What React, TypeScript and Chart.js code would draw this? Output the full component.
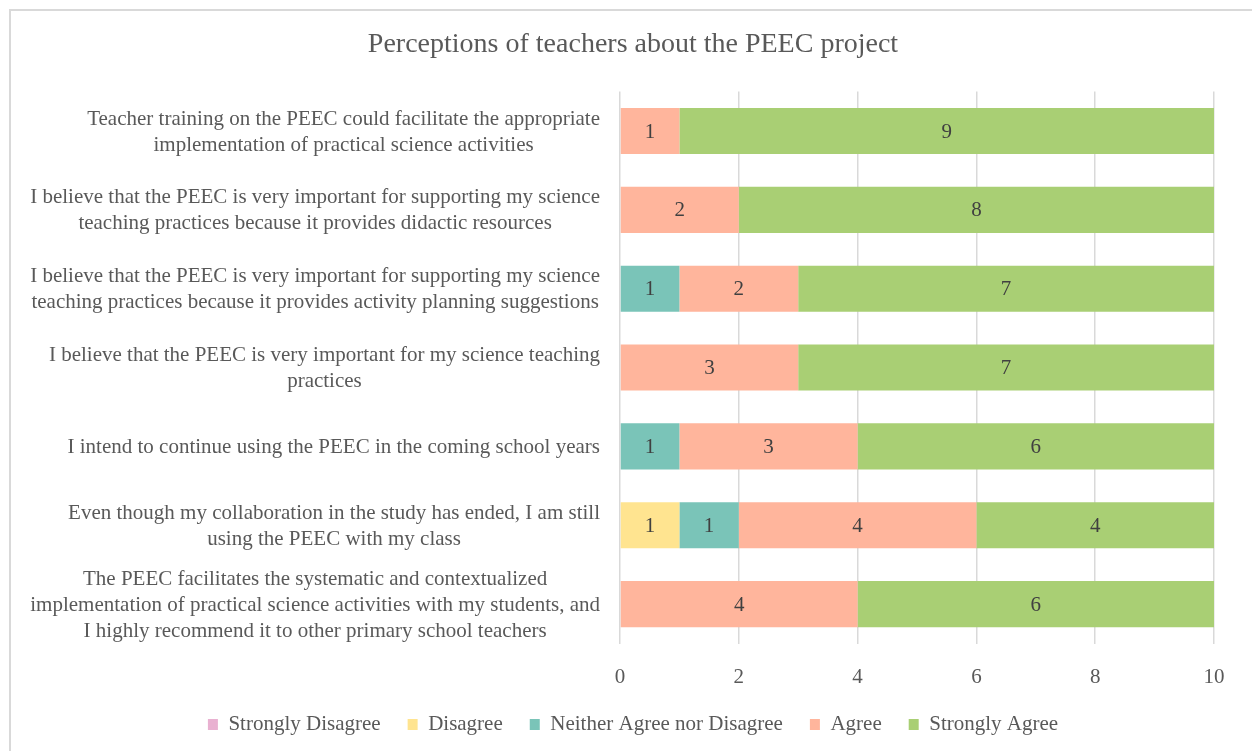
import React, { useEffect, useRef } from "react";
import { Chart, registerables } from "chart.js";

Chart.register(...registerables);

const FONT = "'Liberation Serif', 'Times New Roman', serif";

const categories: string[][] = [
  ["Teacher training on the PEEC could facilitate the appropriate", "implementation of practical science activities"],
  ["I believe that the PEEC is very important for supporting my science", "teaching practices because it provides didactic resources"],
  ["I believe that the PEEC is very important for supporting my science", "teaching practices because it provides activity planning suggestions"],
  ["I believe that the PEEC is very important for my science teaching", "practices"],
  ["I intend to continue using the PEEC in the coming school years"],
  ["Even though my collaboration in the study has ended, I am still", "using the PEEC with my class"],
  ["The PEEC facilitates the systematic and contextualized", "implementation of practical science activities with my students, and", "I highly recommend it to other primary school teachers"],
];

const seriesNames = ["Strongly Disagree", "Disagree", "Neither Agree nor Disagree", "Agree", "Strongly Agree"];
const stronglyDisagree = [0, 0, 0, 0, 0, 0, 0];
const disagree = [0, 0, 0, 0, 0, 1, 0];
const neither = [0, 0, 1, 0, 1, 1, 0];
const agree = [1, 2, 2, 3, 3, 4, 4];
const stronglyAgree = [9, 8, 7, 7, 6, 4, 6];
const seriesColors = ["#E9B1D1", "#FFE490", "#7AC4B8", "#FFB59C", "#A9CF74"];
const xTicks = [0, 2, 4, 6, 8, 10];
const title = "Perceptions of teachers about the PEEC project";

const yLabelPlugin = {
  id: "yLabels",
  afterDraw(chart: any) {
    const ctx = chart.ctx;
    const yScale = chart.scales.y;
    const area = chart.chartArea;
    ctx.save();
    ctx.font = `21px ${FONT}`;
    ctx.fillStyle = "#595959";
    ctx.textBaseline = "middle";
    ctx.textAlign = "center";
    const lh = 26;
    const right = area.left - 20;
    categories.forEach((lines, i) => {
      const yc = yScale.getPixelForValue(i) + 1;
      const w = Math.max(...lines.map((l) => ctx.measureText(l).width));
      const xc = right - w / 2;
      const y0 = yc - ((lines.length - 1) / 2) * lh;
      lines.forEach((l, j) => ctx.fillText(l, xc, y0 + j * lh));
    });
    ctx.restore();
  },
};

const dataLabelPlugin = {
  id: "dataLabels",
  afterDatasetsDraw(chart: any) {
    const ctx = chart.ctx;
    ctx.save();
    ctx.font = `21px ${FONT}`;
    ctx.fillStyle = "#404040";
    ctx.textAlign = "center";
    ctx.textBaseline = "middle";
    chart.data.datasets.forEach((ds: any, di: number) => {
      const meta = chart.getDatasetMeta(di);
      meta.data.forEach((bar: any, i: number) => {
        const v = ds.data[i];
        if (!v) return;
        const x = (bar.x + bar.base) / 2;
        ctx.fillText(String(v), x, bar.y + 1);
      });
    });
    ctx.restore();
  },
};

export default function App() {
  const ref = useRef<HTMLCanvasElement | null>(null);
  useEffect(() => {
    if (!ref.current) return;
    const values = [stronglyDisagree, disagree, neither, agree, stronglyAgree];
    const chart = new Chart(ref.current, {
      type: "bar",
      data: {
        labels: categories.map((c) => c.join(" ")),
        datasets: seriesNames.map((name, i) => ({
          label: name,
          data: values[i],
          backgroundColor: seriesColors[i],
          borderWidth: 0,
          barPercentage: 0.585,
          categoryPercentage: 1,
        })),
      },
      options: {
        indexAxis: "y",
        responsive: false,
        animation: false,
        maintainAspectRatio: false,
        layout: { padding: { left: 52, right: 38, top: 0, bottom: 6 } },
        scales: {
          x: {
            stacked: true,
            min: 0,
            max: 10,
            afterBuildTicks: (scale: any) => {
              scale.ticks = xTicks.map((v) => ({ value: v }));
            },
            grid: { color: "#d9d9d9", lineWidth: 1.5, drawTicks: false },
            border: { display: false },
            ticks: { font: { family: FONT, size: 21 }, color: "#595959", padding: 21 },
            afterFit: (scale: any) => {
              scale.height = 43.5;
            },
          },
          y: {
            stacked: true,
            grid: { display: false },
            border: { display: false },
            ticks: { display: false },
            afterFit: (scale: any) => {
              scale.width = 568;
            },
          },
        },
        plugins: {
          title: {
            display: true,
            text: title,
            font: { family: FONT, size: 28, weight: "normal" },
            color: "#595959",
            padding: { top: 28, bottom: 30 },
          },
          legend: {
            position: "bottom",
            labels: {
              font: { family: FONT, size: 21 },
              color: "#595959",
              boxWidth: 10,
              boxHeight: 11,
              padding: 27,
            },
          },
          tooltip: { enabled: false },
        },
      },
      plugins: [yLabelPlugin, dataLabelPlugin],
    });
    return () => chart.destroy();
  }, []);

  return (
    <div style={{ position: "absolute", left: 0, top: 0, width: 1252, height: 751, overflow: "hidden", background: "#fff" }}>
      <div
        style={{
          position: "absolute",
          left: 9,
          top: 9,
          width: 1250,
          height: 770,
          border: "2px solid #d9d9d9",
          boxSizing: "border-box",
        }}
      />
      <canvas ref={ref} width={1252} height={751} style={{ position: "absolute", left: 0, top: 0 }} />
    </div>
  );
}
